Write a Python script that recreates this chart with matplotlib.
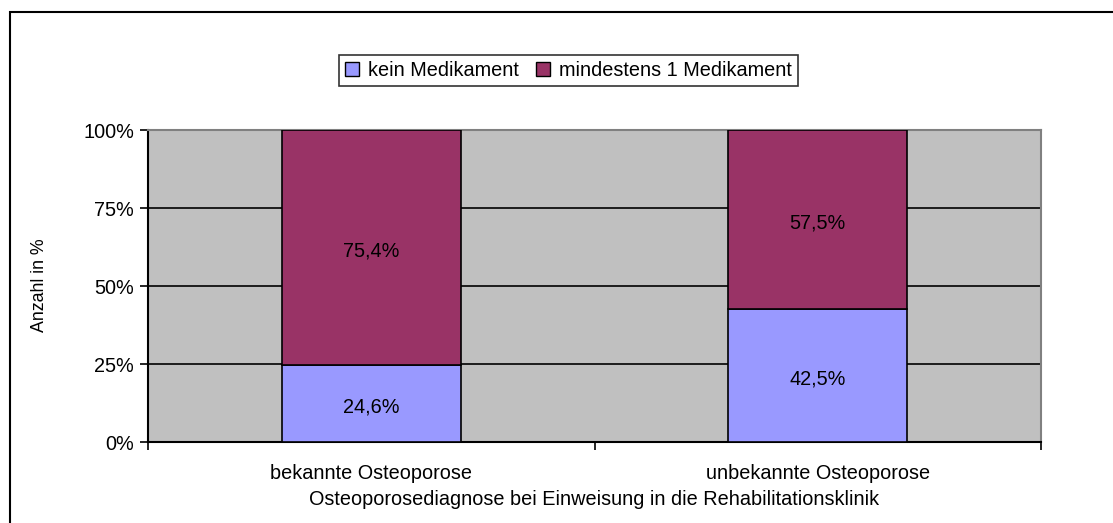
import matplotlib
matplotlib.use("Agg")
import matplotlib.pyplot as plt
from matplotlib.patches import Rectangle, Patch
from matplotlib.transforms import offset_copy
import numpy as np

categories = ["bekannte Osteoporose", "unbekannte Osteoporose"]
kein = [24.6, 42.5]
mind = [75.4, 57.5]
kein_labels = ["24,6%", "42,5%"]
mind_labels = ["75,4%", "57,5%"]
yticks = [0, 25, 50, 75, 100]
ytick_labels = ["0%", "25%", "50%", "75%", "100%"]

plt.rcParams['font.family'] = ['Liberation Sans', 'DejaVu Sans']
FS = 14.3
W, H = 1113, 523
fig = plt.figure(figsize=(W/100, H/100), dpi=100)
fig.patch.set_facecolor("white")

# outer frame (partially cropped)
fig.patches.append(Rectangle((10/W, -0.1), 1.2, (H-12)/H + 0.1, transform=fig.transFigure,
                             fill=False, edgecolor="black", linewidth=1.5, zorder=0))

ax = fig.add_axes([148/W, 1-442/H, (1041-148)/W, (442-130)/H])
ax.set_facecolor("#C0C0C0")
x = np.arange(len(categories))
bw = 0.4
ax.bar(x, kein, bw, color="#9999FF", edgecolor="black", linewidth=1.2, zorder=3, label="kein Medikament")
ax.bar(x, mind, bw, bottom=kein, color="#993366", edgecolor="black", linewidth=1.2, zorder=3, label="mindestens 1 Medikament")
tr = offset_copy(ax.transData, fig=fig, x=0, y=-3, units="dots")
for i in range(len(categories)):
    ax.text(x[i], kein[i]/2, kein_labels[i], ha="center", va="center", fontsize=FS, zorder=4, transform=tr)
    ax.text(x[i], kein[i] + mind[i]/2, mind_labels[i], ha="center", va="center", fontsize=FS, zorder=4, transform=tr)

ax.set_xlim(-0.5, 1.5)
ax.set_ylim(0, 100)
for yv in [25, 50, 75]:
    ax.axhline(yv, color="black", linewidth=1.2, zorder=1)
ax.set_yticks(yticks)
ax.set_yticklabels(ytick_labels, fontsize=FS)
ax.set_xticks([-0.5, 0.5, 1.5])
ax.set_xticklabels([])
ax.set_xticks(x, minor=True)
ax.set_xticklabels(categories, minor=True, fontsize=FS)
ax.tick_params(axis="x", which="minor", length=0, pad=16)
ax.tick_params(axis="x", which="major", length=6, width=1.2, direction="out")
ax.tick_params(axis="y", length=6, width=1.2, direction="out", pad=4)
for s in ["left", "bottom"]:
    ax.spines[s].set_color("black")
    ax.spines[s].set_linewidth(1.5)
for s in ["top", "right"]:
    ax.spines[s].set_color("#808080")
    ax.spines[s].set_linewidth(1.5)
ax.set_xlabel("Osteoporosediagnose bei Einweisung in die Rehabilitationsklinik", fontsize=FS, labelpad=5)
ax.set_ylabel("Anzahl in %", fontsize=12.8, labelpad=0)
ax.yaxis.set_label_coords(39/W, 1-285/H, transform=fig.transFigure)
ax.yaxis.label.set_va("center")

handles = [Patch(facecolor="#9999FF", edgecolor="black", label="kein Medikament"),
           Patch(facecolor="#993366", edgecolor="black", label="mindestens 1 Medikament")]
leg = fig.legend(handles=handles, loc="center", bbox_to_anchor=(568.5/W, 1-70.5/H), ncol=2,
                 fontsize=FS, frameon=True, fancybox=False, edgecolor="black",
                 handlelength=0.7, handleheight=0.7, handletextpad=0.45, columnspacing=0.9,
                 borderpad=0.3, borderaxespad=0)
leg.get_frame().set_linewidth(1.2)

fig.savefig("out.png", dpi=100)
